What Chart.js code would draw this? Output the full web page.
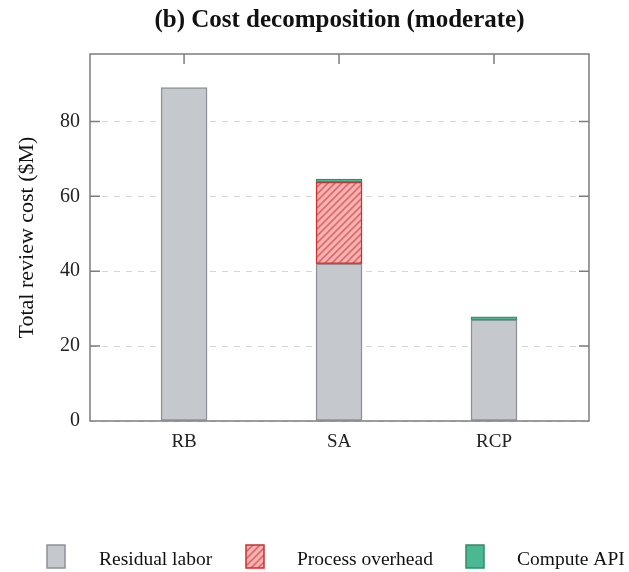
<!DOCTYPE html>
<html><head><meta charset="utf-8">
<script src="https://cdn.jsdelivr.net/npm/chart.js@4/dist/chart.umd.min.js"></script>
<style>html,body{margin:0;padding:0;background:#fff}#wrap{width:629px;height:572px;position:relative}</style>
</head><body><div id="wrap"><canvas id="c" width="629" height="572"></canvas></div>
<script>
const categories = ['RB', 'SA', 'RCP'];
const residualLabor = [89, 42, 27];
const processOverhead = [null, 21.8, null];
const computeAPI = [null, 0.8, 0.8];
const yTicks = [0, 20, 40, 60, 80];
const titleText = '(b) Cost decomposition (moderate)';
const yAxisTitle = 'Total review cost ($M)';
const legendLabels = ['Residual labor', 'Process overhead', 'Compute API'];

const FONT = '"Liberation Serif", "Times New Roman", serif';
const C_RES = '#c5c9ce', C_RES_B = '#8c9198';
const C_OVH_B = '#c93030';
const C_API = '#4cb893', C_API_B = '#2f8c6a';

function hatch() {
  const p = document.createElement('canvas');
  p.width = 7; p.height = 7;
  const g = p.getContext('2d');
  g.fillStyle = '#f6b3b3'; g.fillRect(0, 0, 7, 7);
  g.strokeStyle = '#df6a6a'; g.lineWidth = 1.6;
  g.beginPath();
  g.moveTo(-1, 8); g.lineTo(8, -1);
  g.moveTo(-8, 8); g.lineTo(1, -1);
  g.moveTo(6, 8); g.lineTo(15, -1);
  g.stroke();
  return g.createPattern(p, 'repeat');
}
const OVH = hatch();

function toPoints(arr) {
  return arr.map((v, i) => v === null ? null : { x: i, y: v }).filter(p => p);
}

const frame = {
  id: 'frame',
  afterDatasetsDraw(chart) {
    const { ctx, chartArea: a, scales } = chart;
    ctx.save();
    ctx.strokeStyle = '#7d7d7d'; ctx.lineWidth = 1.5;
    ctx.strokeRect(a.left, a.top, a.right - a.left, a.bottom - a.top);
    ctx.beginPath();
    yTicks.forEach(v => {
      if (v === 0) return;
      const y = scales.y.getPixelForValue(v);
      ctx.moveTo(a.left, y); ctx.lineTo(a.left + 10, y);
      ctx.moveTo(a.right, y); ctx.lineTo(a.right - 10, y);
    });
    categories.forEach((c, i) => {
      const x = scales.x.getPixelForValue(i);
      ctx.moveTo(x, a.top); ctx.lineTo(x, a.top + 10);
    });
    ctx.stroke();
    ctx.restore();
  },
  afterDraw(chart) {
    const { ctx, chartArea: a } = chart;
    ctx.save();
    ctx.fillStyle = '#111';
    ctx.font = 'bold 25px ' + FONT;
    ctx.textAlign = 'center'; ctx.textBaseline = 'middle';
    ctx.fillText(titleText, (a.left + a.right) / 2, 21);
    // legend
    const bx = [47, 246, 466], tx = [99, 297, 517];
    const fills = [C_RES, OVH, C_API], borders = [C_RES_B, C_OVH_B, C_API_B];
    ctx.font = '19.5px ' + FONT;
    ctx.textAlign = 'left';
    legendLabels.forEach((l, i) => {
      ctx.fillStyle = fills[i];
      ctx.fillRect(bx[i], 545, 18, 23);
      ctx.strokeStyle = borders[i]; ctx.lineWidth = 1.5;
      ctx.strokeRect(bx[i], 545, 18, 23);
      ctx.fillStyle = '#111';
      ctx.fillText(l, tx[i], 560);
    });
    ctx.restore();
  }
};

new Chart(document.getElementById('c'), {
  type: 'bar',
  data: {
    datasets: [
      { label: legendLabels[0], data: toPoints(residualLabor), backgroundColor: C_RES, borderColor: C_RES_B, borderWidth: 1.5, borderSkipped: false },
      { label: legendLabels[1], data: toPoints(processOverhead), backgroundColor: OVH, borderColor: C_OVH_B, borderWidth: 1.5, borderSkipped: false },
      { label: legendLabels[2], data: toPoints(computeAPI), backgroundColor: C_API, borderColor: C_API_B, borderWidth: 1.2, borderSkipped: false }
    ]
  },
  options: {
    responsive: false,
    animation: false,
    barThickness: 46,
    layout: { padding: { left: 4, right: 40, top: 54, bottom: 0 } },
    plugins: { legend: { display: false }, title: { display: false }, tooltip: { enabled: false } },
    scales: {
      x: {
        type: 'linear', stacked: true, offset: false, min: -0.607, max: 2.613,
        afterBuildTicks: s => { s.ticks = categories.map((c, i) => ({ value: i })); },
        afterFit: s => { s.height = 151; },
        ticks: { callback: v => categories[v], font: { family: FONT, size: 19 }, color: '#222', padding: 10, autoSkip: false, maxRotation: 0 },
        grid: { display: false, drawTicks: false },
        border: { display: false }
      },
      y: {
        stacked: true, min: 0, max: 98,
        afterBuildTicks: s => { s.ticks = yTicks.map(v => ({ value: v })); },
        afterFit: s => { s.width = 86; },
        ticks: { font: { family: FONT, size: 20 }, color: '#222', padding: 10 },
        grid: { color: '#d6d6d6', lineWidth: 1, drawTicks: false },
        border: { display: false, dash: [6, 6] },
        title: { display: true, text: yAxisTitle, font: { family: FONT, size: 22 }, color: '#111', padding: { top: 10, bottom: 0 } }
      }
    }
  },
  plugins: [frame]
});
</script>
</body></html>
